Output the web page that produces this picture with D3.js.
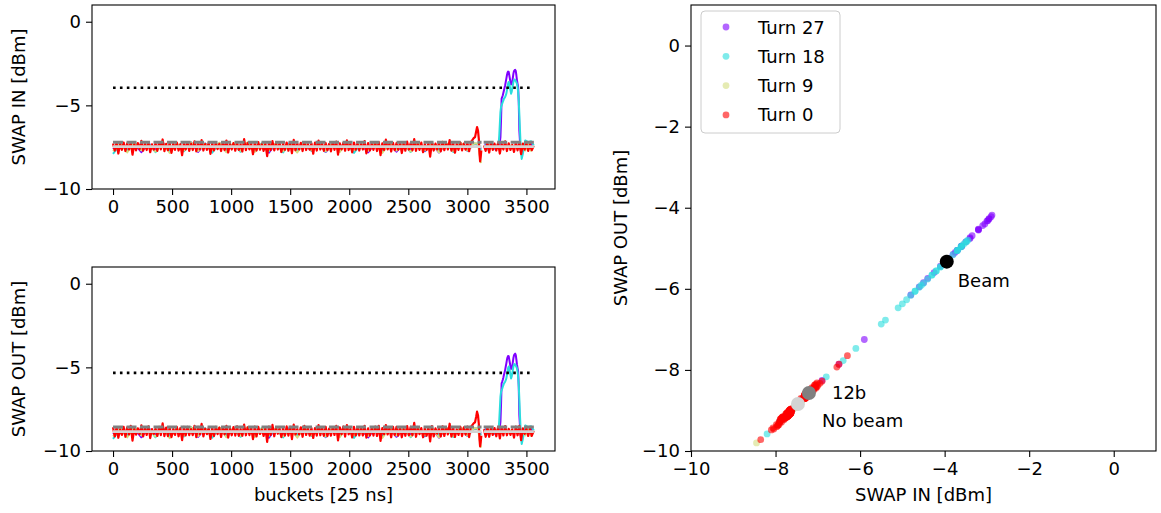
<!DOCTYPE html>
<html>
<head>
<meta charset="utf-8">
<script src="https://cdn.jsdelivr.net/npm/d3@7"></script>
<style>
  body { margin: 0; background: #fff; }
  svg { display: block; font-family: "DejaVu Sans", sans-serif; }
</style>
</head>
<body>
<svg id="chart" width="1161" height="513"></svg>
<script>
// ---- data ---------------------------------------------------------------

const turnNames  = ["Turn 27", "Turn 18", "Turn 9", "Turn 0"];
const turnColors = ["#8000ff", "#2adddd", "#d4dd80", "#ff0000"];

// bucket grids: Turn 0, Turn 9, and the two turns that carry the injected beam
const bucketsTurn0 = d3.range(0, 3040, 15).concat(
  [3045, 3055, 3065, 3075, 3082, 3090, 3097, 3103, 3108, 3113, 3118, 3125],
  d3.range(3140, 3564, 15));
const bucketsTurn9 = d3.range(0, 3061, 60).concat([
  3090, 3115, 3125, 3150, 3180, 3210, 3240, 3260,
  3270, 3280, 3290, 3300, 3310, 3320, 3330, 3340, 3350, 3360, 3370, 3380,
  3390, 3400, 3410, 3420, 3430, 3440, 3450, 3460, 3470,
  3490, 3515, 3540, 3563]);
const bucketsBeam = d3.range(0, 3061, 60).concat(
  [3090, 3115, 3125, 3150, 3180, 3210, 3240, 3260],
  d3.range(3265, 3460, 5),
  [3460, 3470, 3490, 3515, 3540, 3563]);

// SWAP IN / SWAP OUT per bucket [dBm]; null = abort gap
const in0 = [
  -7.28, -7.70, -7.24, -7.88, -7.30, -7.66, -7.22, -7.73, -7.27, -7.64,
  -7.20, -7.95, -7.31, -7.69, -7.25, -7.62, -7.12, -7.71, -7.29, -7.67,
  -7.23, -7.80, -7.33, -7.65, -7.26, -7.72, -7.21, -7.63, -7.04, -7.74,
  -7.30, -7.68, -7.24, -7.84, -7.28, -7.66, -7.22, -7.70, -7.32, -7.98,
  -7.26, -7.64, -7.19, -7.72, -7.29, -7.67, -7.15, -7.75, -7.25, -7.63,
  -7.08, -7.70, -7.31, -7.66, -7.23, -7.90, -7.27, -7.69, -7.24, -7.62,
  -7.30, -7.73, -7.21, -7.67, -7.10, -7.82, -7.28, -7.64, -7.26, -7.71,
  -7.22, -7.66, -7.33, -7.76, -7.02, -7.68, -7.25, -7.63, -7.29, -7.92,
  -7.24, -7.70, -7.20, -7.65, -7.31, -7.72, -7.27, -8.04, -7.23, -7.67,
  -7.14, -7.69, -7.28, -7.64, -7.25, -7.79, -7.30, -7.66, -7.22, -7.71,
  -7.26, -7.86, -7.06, -7.68, -7.29, -7.63, -7.24, -7.73, -7.19, -7.67,
  -7.32, -7.65, -7.27, -7.89, -7.23, -7.70, -7.11, -7.64, -7.28, -7.72,
  -7.25, -7.68, -7.30, -7.75, -7.21, -7.66, -7.16, -7.94, -7.27, -7.63,
  -7.24, -7.71, -7.09, -7.67, -7.29, -7.81, -7.22, -7.65, -7.26, -7.70,
  -7.31, -7.64, -7.13, -7.87, -7.25, -7.69, -7.28, -7.66, -7.23, -7.73,
  -7.20, -7.97, -7.27, -7.67, -7.05, -7.63, -7.30, -7.76, -7.24, -7.68,
  -7.26, -7.65, -7.22, -7.85, -7.29, -7.71, -7.17, -7.64, -7.25, -7.69,
  -7.02, -7.72, -7.28, -7.66, -7.23, -7.80, -7.31, -7.67, -7.26, -8.06,
  -7.21, -7.70, -7.29, -7.63, -7.24, -7.75, -7.18, -7.68, -7.27, -7.64,
  -7.07, -7.71, -7.25, -7.83, -7.30, -7.66, -7.22, -7.69, -7.28, -7.65,
  -7.24, -7.74, -7.20,
  -7.05, -6.95, -6.90, -6.55, -6.30, -6.50, -7.00, -7.90, -8.35, -8.10, -7.70, null,
  -7.40, -7.72, -7.24, -7.82, -7.22, -7.66, -7.29, -7.70, -7.25, -7.88,
  -7.30, -7.64, -7.15, -7.73, -7.27, -7.66, -7.36, -7.78, -7.23, -7.69,
  -7.20, -7.92, -7.28, -7.65, -7.26, -7.72, -7.31, -7.68, -7.45];
const out0 = [
  -8.58, -9.13, -8.60, -9.21, -8.70, -9.04, -8.56, -9.15, -8.58, -9.01,
  -8.50, -9.38, -8.67, -9.02, -8.65, -9.00, -8.46, -9.13, -8.60, -9.04,
  -8.53, -9.23, -8.69, -8.98, -8.66, -9.10, -8.55, -9.05, -8.35, -9.11,
  -8.60, -9.11, -8.60, -9.17, -8.68, -9.04, -8.56, -9.12, -8.63, -9.35,
  -8.56, -9.07, -8.55, -9.05, -8.69, -9.05, -8.49, -9.17, -8.56, -9.00,
  -8.38, -9.13, -8.67, -8.99, -8.63, -9.28, -8.61, -9.11, -8.55, -8.99,
  -8.60, -9.16, -8.57, -9.00, -8.50, -9.20, -8.62, -9.06, -8.57, -9.08,
  -8.52, -9.09, -8.69, -9.09, -8.42, -9.06, -8.59, -9.05, -8.60, -9.29,
  -8.54, -9.13, -8.56, -8.98, -8.71, -9.10, -8.61, -9.46, -8.54, -9.04,
  -8.44, -9.12, -8.64, -8.97, -8.65, -9.17, -8.64, -9.08, -8.53, -9.08,
  -8.56, -9.29, -8.42, -9.01, -8.69, -9.01, -8.58, -9.15, -8.50, -9.04,
  -8.62, -9.08, -8.63, -9.22, -8.63, -9.08, -8.45, -9.06, -8.59, -9.09,
  -8.55, -9.11, -8.66, -9.08, -8.61, -9.04, -8.50, -9.36, -8.58, -9.00,
  -8.54, -9.14, -8.45, -9.00, -8.69, -9.19, -8.56, -9.07, -8.57, -9.07,
  -8.61, -9.07, -8.49, -9.20, -8.65, -9.07, -8.62, -9.08, -8.54, -9.10,
  -8.50, -9.40, -8.63, -9.00, -8.45, -9.01, -8.64, -9.18, -8.55, -9.05,
  -8.56, -9.08, -8.58, -9.18, -8.69, -9.09, -8.51, -9.06, -8.56, -9.06,
  -8.32, -9.15, -8.64, -8.99, -8.63, -9.18, -8.65, -9.09, -8.57, -9.43,
  -8.51, -9.13, -8.65, -8.96, -8.64, -9.13, -8.52, -9.10, -8.58, -9.01,
  -8.37, -9.14, -8.61, -9.16, -8.70, -9.04, -8.56, -9.11, -8.59, -9.02,
  -8.54, -9.17, -8.56,
  -8.42, -8.33, -8.28, -7.93, -7.65, -7.86, -8.38, -9.30, -9.72, -9.48, -9.08, null,
  -8.70, -9.15, -8.60, -9.15, -8.62, -9.04, -8.63, -9.12, -8.56, -9.25,
  -8.60, -9.07, -8.51, -9.06, -8.67, -9.04, -8.70, -9.20, -8.54, -9.06,
  -8.50, -9.35, -8.64, -8.98, -8.66, -9.10, -8.65, -9.10, -8.82];

const in9 = [
  -7.74, -7.26, -7.81, -7.22, -7.69, -7.30, -7.76, -7.24, -7.85, -7.27,
  -7.70, -7.21, -7.73, -7.29, -7.67, -7.23, -7.80, -7.26, -7.71, -7.20,
  -7.78, -7.28, -7.66, -7.25, -7.74, -7.31, -7.82, -7.22, -7.69, -7.27,
  -7.75, -7.24, -7.79, -7.21, -7.68, -7.30, -7.72, -7.23, -7.84, -7.26,
  -7.70, -7.29, -7.76, -7.22, -7.67, -7.28, -7.81, -7.25, -7.73, -7.21,
  -7.69, -7.27,
  -7.30, -8.45, null, -7.60, -7.35, -7.58, -7.38, -7.55,
  -7.42, -7.50, -7.40, -7.56, -7.44, -7.52, -7.38, -7.57, -7.43, -7.51,
  -7.39, -7.55, -7.45, -7.50, -7.41, -7.58, -7.44, -7.52, -7.37, -7.62, -7.46,
  -7.70, -7.26, -7.72, -7.40];
const out9 = [
  -9.12, -8.62, -9.19, -8.58, -9.07, -8.66, -9.14, -8.60, -9.23, -8.63,
  -9.08, -8.57, -9.11, -8.65, -9.05, -8.59, -9.18, -8.62, -9.09, -8.56,
  -9.16, -8.64, -9.04, -8.61, -9.12, -8.68, -9.20, -8.58, -9.07, -8.63,
  -9.13, -8.60, -9.17, -8.57, -9.06, -8.66, -9.10, -8.59, -9.22, -8.62,
  -9.08, -8.65, -9.14, -8.58, -9.05, -8.64, -9.19, -8.61, -9.11, -8.57,
  -9.07, -8.63,
  -8.67, -9.80, null, -8.97, -8.72, -8.95, -8.75, -8.92,
  -8.79, -8.87, -8.77, -8.93, -8.81, -8.89, -8.75, -8.94, -8.80, -8.88,
  -8.76, -8.92, -8.82, -8.87, -8.78, -8.95, -8.81, -8.89, -8.74, -8.99, -8.83,
  -9.07, -8.63, -9.09, -8.77];

const in18 = [
  -7.90, -7.34, -7.72, -7.22, -7.68, -7.27, -7.80, -7.24, -7.66, -7.30,
  -7.75, -7.21, -7.70, -7.28, -7.83, -7.25, -7.64, -7.32, -7.77, -7.22,
  -7.69, -7.26, -7.74, -7.29, -7.81, -7.23, -7.67, -7.31, -7.72, -7.20,
  -7.76, -7.27, -7.70, -7.24, -7.84, -7.29, -7.65, -7.22, -7.73, -7.26,
  -7.68, -7.30, -7.79, -7.21, -7.71, -7.27, -7.66, -7.25, -7.78, -7.23,
  -7.70, -7.28,
  -7.30, -7.70, null, -7.35, -7.68, -7.30, -7.62, -7.30,
  -7.30, -6.80, -6.10, -5.40, -5.10, -5.00, -4.90, -4.80, -4.70, -4.60,
  -4.55, -4.50, -4.40, -4.30, -4.10, -3.90, -3.70, -3.60, -3.70, -3.90,
  -4.10, -4.30, -4.20, -4.00, -3.80, -3.60, -3.50, -3.45, -3.48, -3.55,
  -3.62, -3.70, -3.90, -4.20, -4.70, -5.50, -6.40, -7.20, -7.80,
  -8.20, -7.90, -7.10, -7.20, -7.15, -7.40];
const out18 = [
  -9.28, -8.70, -9.10, -8.58, -9.06, -8.63, -9.18, -8.60, -9.04, -8.66,
  -9.13, -8.57, -9.08, -8.64, -9.21, -8.61, -9.02, -8.69, -9.15, -8.58,
  -9.07, -8.62, -9.12, -8.65, -9.19, -8.59, -9.05, -8.68, -9.10, -8.56,
  -9.14, -8.63, -9.08, -8.60, -9.22, -8.65, -9.03, -8.58, -9.11, -8.62,
  -9.06, -8.66, -9.17, -8.57, -9.09, -8.63, -9.04, -8.61, -9.16, -8.59,
  -9.08, -8.64,
  -8.66, -9.07, null, -8.72, -9.05, -8.67, -8.99, -8.67,
  -8.67, -8.17, -7.47, -6.77, -6.47, -6.37, -6.27, -6.16, -6.06, -5.96,
  -5.91, -5.86, -5.76, -5.66, -5.46, -5.26, -5.05, -4.95, -5.05, -5.26,
  -5.46, -5.66, -5.56, -5.36, -5.16, -4.95, -4.85, -4.80, -4.83, -4.90,
  -4.97, -5.06, -5.26, -5.56, -6.06, -6.87, -7.77, -8.57, -9.17,
  -9.58, -9.27, -8.47, -8.57, -8.52, -8.77];

const in27 = [
  -7.62, -7.24, -7.70, -7.30, -7.80, -7.26, -7.66, -7.22, -7.74, -7.33,
  -7.68, -7.21, -7.78, -7.28, -7.64, -7.25, -7.76, -7.31, -7.69, -7.23,
  -7.72, -7.29, -7.83, -7.26, -7.67, -7.22, -7.75, -7.30, -7.70, -7.24,
  -7.79, -7.27, -7.65, -7.21, -7.73, -7.32, -7.81, -7.25, -7.68, -7.23,
  -7.77, -7.28, -7.66, -7.20, -7.74, -7.30, -7.82, -7.26, -7.69, -7.24,
  -7.71, -7.30,
  -7.35, -7.60, null, -7.30, -7.62, -7.28, -7.66, -7.32,
  -7.35, -7.40, -7.20, -6.90, -5.90, -4.60, -4.50, -4.40, -4.25, -4.10,
  -3.95, -3.80, -3.60, -3.40, -3.20, -3.05, -2.98, -3.00, -3.20, -3.40,
  -3.60, -3.75, -3.70, -3.60, -3.35, -3.10, -2.95, -2.90, -2.88, -2.95,
  -3.20, -3.50, -3.70, -3.90, -4.80, -6.50, -7.10, -7.60, -7.80,
  -7.90, -7.70, -7.30, -7.60, -7.30, -7.50];
const out27 = [
  -8.99, -8.60, -9.08, -8.66, -9.18, -8.62, -9.04, -8.58, -9.12, -8.69,
  -9.05, -8.57, -9.16, -8.64, -9.02, -8.61, -9.14, -8.68, -9.07, -8.59,
  -9.10, -8.65, -9.21, -8.62, -9.05, -8.58, -9.13, -8.66, -9.08, -8.60,
  -9.17, -8.63, -9.03, -8.57, -9.11, -8.69, -9.19, -8.61, -9.06, -8.59,
  -9.15, -8.64, -9.04, -8.56, -9.12, -8.66, -9.20, -8.62, -9.07, -8.60,
  -9.09, -8.66,
  -8.70, -8.96, null, -8.66, -8.99, -8.64, -9.03, -8.69,
  -8.72, -8.77, -8.57, -8.26, -7.25, -5.95, -5.85, -5.74, -5.60, -5.44,
  -5.30, -5.15, -4.95, -4.76, -4.55, -4.40, -4.32, -4.33, -4.54, -4.74,
  -4.95, -5.10, -5.05, -4.95, -4.69, -4.44, -4.28, -4.22, -4.18, -4.27,
  -4.53, -4.84, -5.05, -5.25, -6.15, -7.86, -8.46, -8.97, -9.17,
  -9.28, -9.07, -8.67, -8.97, -8.66, -8.87];

// reference levels: mean signal with beam, with the 12b batch, without beam
const levelNames = ["Beam", "12b", "No beam"];
const levelIn    = [-3.95, -7.21, -7.47];
const levelOut   = [-5.33, -8.57, -8.84];
const abortGap   = [3120, 3138];
const lastBucket = 3563;

const bucketTicks  = [0, 500, 1000, 1500, 2000, 2500, 3000, 3500];
const traceTicks   = [0, -5, -10];
const scatterTicks = [-10, -8, -6, -4, -2, 0];

// ---- layout -------------------------------------------------------------

const svg = d3.select("#chart");
const FONT = 18;

const series = [
  { name: turnNames[0], color: turnColors[0], buckets: bucketsBeam,  vin: in27, vout: out27, w: 2 },
  { name: turnNames[1], color: turnColors[1], buckets: bucketsBeam,  vin: in18, vout: out18, w: 2 },
  { name: turnNames[2], color: turnColors[2], buckets: bucketsTurn9, vin: in9,  vout: out9,  w: 2 },
  { name: turnNames[3], color: turnColors[3], buckets: bucketsTurn0, vin: in0,  vout: out0,  w: 2.2 }
];

const xBucket = d3.scaleLinear().domain([-178, 3742]).range([92, 555]);

function styleAxis(g) {
  g.select(".domain").remove();
  g.selectAll(".tick line").attr("stroke", "#000").attr("stroke-width", 1.1);
  g.selectAll(".tick text").attr("fill", "#000").attr("font-size", FONT)
    .attr("font-family", "DejaVu Sans, sans-serif");
}

function frame(g, x0, y0, x1, y1) {
  g.append("rect").attr("x", x0).attr("y", y0)
    .attr("width", x1 - x0).attr("height", y1 - y0)
    .attr("fill", "none").attr("stroke", "#000").attr("stroke-width", 1.1);
}

// one trace panel (SWAP IN or SWAP OUT against bucket number)
function tracePanel(id, top, bottom, key, levels, label, withXLabel) {
  const y = d3.scaleLinear().domain([-10, 1]).range([bottom, top]);
  const g = svg.append("g");
  const [x0, x1] = xBucket.range();

  g.append("clipPath").attr("id", id)
    .append("rect").attr("x", x0).attr("y", top).attr("width", x1 - x0).attr("height", bottom - top);
  const plot = g.append("g").attr("clip-path", `url(#${id})`);

  series.forEach(s => {
    const pts = s.buckets.map((b, i) => ({ b, v: s[key][i] }));
    const line = d3.line().defined(d => d.v != null)
      .x(d => xBucket(d.b)).y(d => y(d.v));
    plot.append("path").datum(pts)
      .attr("d", line).attr("fill", "none")
      .attr("stroke", s.color).attr("stroke-width", s.w)
      .attr("stroke-linejoin", "round");
  });

  const levelLine = d3.line().defined(d => d.v != null).x(d => xBucket(d.b)).y(d => y(d.v));
  const split = v => [{ b: 0, v }, { b: abortGap[0], v }, { b: abortGap[0], v: null },
                      { b: abortGap[1], v }, { b: lastBucket, v }];

  // 12b level (dashed grey) and no-beam level (light grey)
  plot.append("path").datum(split(levels[1])).attr("d", levelLine)
    .attr("fill", "none").attr("stroke", "#808080").attr("stroke-width", 3)
    .attr("stroke-dasharray", "10,3.5");
  plot.append("path").datum(split(levels[2])).attr("d", levelLine)
    .attr("fill", "none").attr("stroke", "#d3d3d3").attr("stroke-width", 2.8);
  // beam level (dotted black)
  plot.append("path").datum([{ b: 0, v: levels[0] }, { b: lastBucket, v: levels[0] }])
    .attr("d", levelLine).attr("fill", "none").attr("stroke", "#000")
    .attr("stroke-width", 2.6).attr("stroke-dasharray", "2.6,4.3");

  const ax = g.append("g").attr("transform", `translate(0,${bottom})`)
    .call(d3.axisBottom(xBucket).tickValues(bucketTicks).tickSize(6).tickPadding(5)
      .tickFormat(d3.format("d")));
  styleAxis(ax);
  const ay = g.append("g").attr("transform", `translate(${x0},0)`)
    .call(d3.axisLeft(y).tickValues(traceTicks).tickSize(6).tickPadding(5));
  styleAxis(ay);

  frame(g, x0, top, x1, bottom);

  g.append("text")
    .attr("transform", `translate(18,${(top + bottom) / 2}) rotate(-90)`)
    .attr("text-anchor", "middle").attr("dominant-baseline", "central")
    .attr("font-size", FONT).attr("fill", "#000").text(label);

  if (withXLabel) {
    g.append("text").attr("x", (x0 + x1) / 2).attr("y", 494)
      .attr("text-anchor", "middle").attr("dominant-baseline", "central")
      .attr("font-size", FONT).attr("fill", "#000").text("buckets [25 ns]");
  }
}

tracePanel("clipIn", 5, 189, "vin", levelIn, "SWAP IN [dBm]", false);
tracePanel("clipOut", 267, 451, "vout", levelOut, "SWAP OUT [dBm]", true);

// ---- SWAP OUT versus SWAP IN --------------------------------------------

(function scatterPanel() {
  const x = d3.scaleLinear().domain([-10, 1]).range([691, 1156]);
  const y = d3.scaleLinear().domain([-10, 1]).range([451, 5]);
  const g = svg.append("g");
  const [x0, x1] = x.range();
  const [y1, y0] = y.range();

  g.append("clipPath").attr("id", "clipSc")
    .append("rect").attr("x", x0).attr("y", y0).attr("width", x1 - x0).attr("height", y1 - y0);
  const plot = g.append("g").attr("clip-path", "url(#clipSc)");

  series.forEach(s => {
    const pts = s.vin.map((v, i) => ({ a: v, b: s.vout[i] })).filter(d => d.a != null && d.b != null);
    plot.append("g").selectAll("circle").data(pts).join("circle")
      .attr("cx", d => x(d.a)).attr("cy", d => y(d.b)).attr("r", 3.4)
      .attr("fill", s.color).attr("fill-opacity", 0.6);
  });

  const levelColors = ["#000000", "#808080", "#d3d3d3"];
  // No beam first, then 12b, then Beam on top
  [2, 1, 0].forEach(i => {
    plot.append("circle").attr("cx", x(levelIn[i])).attr("cy", y(levelOut[i]))
      .attr("r", 7).attr("fill", levelColors[i]);
  });

  const labelOffsets = [[11, 19], [23, -1], [24, 17]];
  levelNames.forEach((n, i) => {
    g.append("text")
      .attr("x", x(levelIn[i]) + labelOffsets[i][0])
      .attr("y", y(levelOut[i]) + labelOffsets[i][1])
      .attr("dominant-baseline", "central").attr("font-size", FONT).attr("fill", "#000")
      .text(n);
  });

  const ax = g.append("g").attr("transform", `translate(0,${y1})`)
    .call(d3.axisBottom(x).tickValues(scatterTicks).tickSize(6).tickPadding(5));
  styleAxis(ax);
  const ay = g.append("g").attr("transform", `translate(${x0},0)`)
    .call(d3.axisLeft(y).tickValues(scatterTicks).tickSize(6).tickPadding(5));
  styleAxis(ay);

  frame(g, x0, y0, x1, y1);

  g.append("text").attr("x", (x0 + x1) / 2).attr("y", 494)
    .attr("text-anchor", "middle").attr("dominant-baseline", "central")
    .attr("font-size", FONT).attr("fill", "#000").text("SWAP IN [dBm]");
  g.append("text")
    .attr("transform", `translate(620,${(y0 + y1) / 2}) rotate(-90)`)
    .attr("text-anchor", "middle").attr("dominant-baseline", "central")
    .attr("font-size", FONT).attr("fill", "#000").text("SWAP OUT [dBm]");

  // legend
  const lg = g.append("g").attr("transform", "translate(701,11)");
  lg.append("rect").attr("width", 139).attr("height", 122).attr("rx", 4)
    .attr("fill", "#fff").attr("fill-opacity", 0.8)
    .attr("stroke", "#cccccc").attr("stroke-width", 1);
  series.forEach((s, i) => {
    const yy = 16 + i * 29.3;
    lg.append("circle").attr("cx", 25).attr("cy", yy).attr("r", 3.4)
      .attr("fill", s.color).attr("fill-opacity", 0.6);
    lg.append("text").attr("x", 57).attr("y", yy)
      .attr("dominant-baseline", "central").attr("font-size", FONT).attr("fill", "#000")
      .text(s.name);
  });
})();
</script>
</body>
</html>
